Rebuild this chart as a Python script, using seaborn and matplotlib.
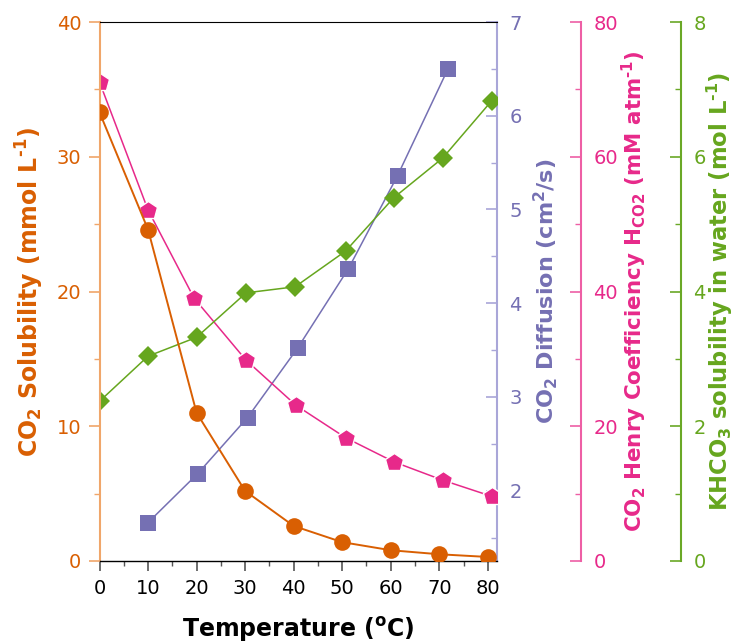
import numpy as np
import pandas as pd
import matplotlib
matplotlib.use("Agg")
import matplotlib.pyplot as plt
import seaborn as sns
from matplotlib.ticker import MultipleLocator

# ---- data ----
temp = [0, 10, 20, 30, 40, 50, 60, 70, 80]
co2_solubility = [33.3, 24.6, 11.0, 5.2, 2.6, 1.4, 0.8, 0.5, 0.3]

diff_temp = [10, 20.2, 30.5, 40.8, 51.3, 61.4, 71.8]
co2_diffusion = [1.66, 2.18, 2.78, 3.52, 4.37, 5.36, 6.50]

henry_temp = [0, 10, 19.5, 30.2, 40.5, 50.7, 60.7, 70.7, 80.8]
henry_coeff = [71.1, 52.1, 39.0, 29.8, 23.1, 18.3, 14.7, 12.0, 9.6]

khco3_temp = [0, 10, 20, 30.2, 40.3, 50.7, 60.6, 70.7, 80.8]
khco3_solubility = [2.37, 3.04, 3.32, 3.98, 4.07, 4.60, 5.39, 5.98, 6.83]

x_ticks = [0, 10, 20, 30, 40, 50, 60, 70, 80]

sns.set_theme(style="ticks")
plt.rcParams['font.family'] = ['DejaVu Sans']
plt.rcParams['mathtext.default'] = 'regular'

pal = sns.color_palette("Dark2")
c_orange = pal[1]
c_purple = pal[2]
c_pink = pal[3]
c_green = pal[4]
spine_orange = "#F0A66A"
spine_purple = "#A9A6D8"
spine_pink = "#EE5FA5"
spine_green = "#6AA826"

W, H = 738, 643
fig = plt.figure(figsize=(W / 100, H / 100), dpi=100)
x0, x1, ytop, ybot = 99.5, 497.0, 22.0, 561.0
ax = fig.add_axes([x0 / W, 1 - ybot / H, (x1 - x0) / W, (ybot - ytop) / H])
ax2 = ax.twinx()
ax3 = ax.twinx()
ax4 = ax.twinx()
ax3.spines['right'].set_position(('axes', (581 - x0) / (x1 - x0)))
ax4.spines['right'].set_position(('axes', (681 - x0) / (x1 - x0)))

df1 = pd.DataFrame({"T": temp, "v": co2_solubility})
df2 = pd.DataFrame({"T": diff_temp, "v": co2_diffusion})
df3 = pd.DataFrame({"T": henry_temp, "v": henry_coeff})
df4 = pd.DataFrame({"T": khco3_temp, "v": khco3_solubility})

sns.lineplot(data=df1, x="T", y="v", ax=ax, color=c_orange, marker='o',
             markersize=12, linewidth=1.4, markeredgewidth=0, zorder=3)
sns.lineplot(data=df2, x="T", y="v", ax=ax2, color=c_purple, marker='s',
             markersize=11, linewidth=1.1, markeredgewidth=0)
sns.lineplot(data=df3, x="T", y="v", ax=ax3, color=c_pink, marker='p',
             markersize=13.5, linewidth=1.1, markeredgecolor='white', markeredgewidth=1.0)
sns.lineplot(data=df4, x="T", y="v", ax=ax4, color=c_green, marker='D',
             markersize=10.5, linewidth=1.1, markeredgewidth=0)

ax.set_xlim(0, 81.9)
ax.set_ylim(0, 40)
ax2.set_ylim(1.25, 7)
ax3.set_ylim(0, 80)
ax4.set_ylim(0, 8)

ax.set_xticks(x_ticks)
ax.xaxis.set_minor_locator(MultipleLocator(5))
ax.yaxis.set_major_locator(MultipleLocator(10))
ax.yaxis.set_minor_locator(MultipleLocator(5))
ax2.yaxis.set_major_locator(MultipleLocator(1))
ax2.yaxis.set_minor_locator(MultipleLocator(0.5))
ax3.yaxis.set_major_locator(MultipleLocator(20))
ax3.yaxis.set_minor_locator(MultipleLocator(10))
ax4.yaxis.set_major_locator(MultipleLocator(2))
ax4.yaxis.set_minor_locator(MultipleLocator(1))

fs_tick = 14

# main axes styling
ax.spines['top'].set_color('black')
ax.spines['top'].set_linewidth(0.8)
ax.spines['bottom'].set_color('black')
ax.spines['bottom'].set_linewidth(1.0)
ax.spines['left'].set_color(spine_orange)
ax.spines['left'].set_linewidth(1.5)
ax.spines['right'].set_visible(False)
ax.tick_params(axis='x', which='major', direction='out', length=7, width=1.2,
               color='#555555', labelsize=fs_tick, labelcolor='black', pad=6, top=False)
ax.tick_params(axis='x', which='minor', direction='out', length=3.5, width=1.0,
               color='#555555', top=False)
ax.tick_params(axis='y', which='major', direction='out', length=8, width=1.2,
               color=spine_orange, labelsize=fs_tick, labelcolor=c_orange, pad=5)
ax.tick_params(axis='y', which='minor', direction='out', length=4, width=1.0,
               color=spine_orange)

for a, sc, tc in [(ax2, spine_purple, c_purple), (ax3, spine_pink, c_pink), (ax4, spine_green, c_green)]:
    for s in ['top', 'bottom', 'left']:
        a.spines[s].set_visible(False)
    a.spines['right'].set_color(sc)
    a.spines['right'].set_linewidth(1.5)
    a.tick_params(axis='y', which='major', direction='in', length=8, width=1.2,
                  color=sc, labelsize=fs_tick, labelcolor=tc, pad=9)
    a.tick_params(axis='y', which='minor', direction='in', length=4, width=1.0, color=sc)
    a.grid(False)
ax.grid(False)

HY = '\u2010'
ax.set_xlabel('Temperature ($^{o}$C)', fontsize=17, fontweight='bold', color='black', labelpad=12)
ax.set_ylabel('CO$_2$ Solubility (mmol L$^{' + HY + '1}$)', fontsize=17, fontweight='bold', color=c_orange)
ax2.set_ylabel('CO$_2$ Diffusion (cm$^2$/s)', fontsize=16, fontweight='bold', color=c_purple)
ax3.set_ylabel('CO$_2$ Henry Coefficiency H$_{CO2}$ (mM atm$^{' + HY + '1}$)',
               fontsize=15.4, fontweight='bold', color=c_pink)
ax4.set_ylabel('KHCO$_3$ solubility in water (mol L$^{' + HY + '1}$)', fontsize=16.3, fontweight='bold', color=c_green)

wpx = x1 - x0
ax.yaxis.set_label_coords((46 - x0) / wpx, 0.5)
ax2.yaxis.set_label_coords((531 - x0) / wpx, 0.5)
ax3.yaxis.set_label_coords((620 - x0) / wpx, 0.5)
ax4.yaxis.set_label_coords((705 - x0) / wpx, 0.5)

ax.set_zorder(1)
ax.patch.set_visible(False)

fig.savefig("out.png", dpi=100)
